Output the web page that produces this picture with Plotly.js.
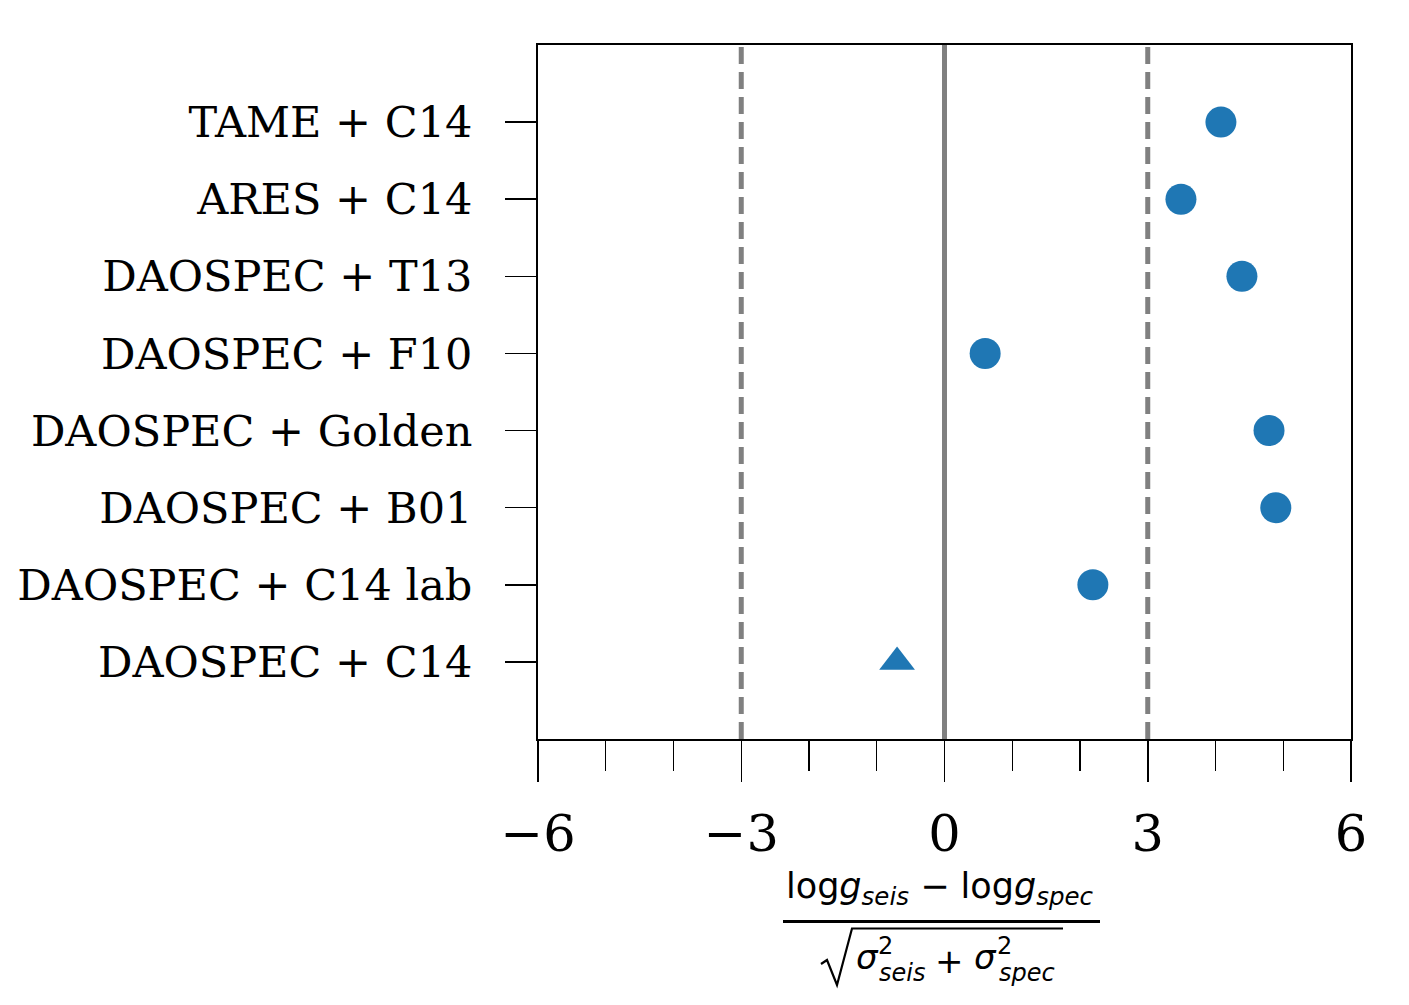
<!DOCTYPE html>
<html>
<head>
<meta charset="utf-8">
<script src="https://cdn.plot.ly/plotly-3.0.1.min.js"></script>
<style>html,body{margin:0;padding:0;background:#fff;}</style>
</head>
<body>
<div id="chart" style="width:1409px;height:1005px;"></div>
<script>
// Categories listed bottom to top
const categories = [
  'DAOSPEC + C14',
  'DAOSPEC + C14 lab',
  'DAOSPEC + B01',
  'DAOSPEC + Golden',
  'DAOSPEC + F10',
  'DAOSPEC + T13',
  'ARES + C14',
  'TAME + C14'
];
const values = [-0.70, 2.19, 4.89, 4.79, 0.60, 4.39, 3.49, 4.08];
const symbols = ['triangle-up', 'circle', 'circle', 'circle', 'circle', 'circle', 'circle', 'circle'];
const refLines = [-3, 0, 3];
const xTicks = [-6, -3, 0, 3, 6];

// layout geometry (pixels)
const W = 1409, H = 1005;
const L = 538, R = 1351, T = 45, B = 739;
const px = x => (x - L) / (R - L);
const py = y => (B - y) / (B - T);

const numFont = {family: 'DejaVu Sans', size: 35, color: '#000'};
const mathFont = {family: 'DejaVu Sans', size: 34, color: '#000'};
const subFont = {family: 'DejaVu Sans', size: 24, color: '#000'};

const trace = {
  type: 'scatter',
  mode: 'markers',
  x: values,
  y: categories,
  marker: {
    color: '#1f77b4',
    opacity: 1,
    size: 31,
    symbol: symbols,
    line: {width: 0}
  },
  hoverinfo: 'x+y',
  showlegend: false
};

const shapes = refLines.map(v => ({
  type: 'line', xref: 'x', yref: 'paper',
  x0: v, x1: v, y0: 0, y1: 1,
  line: {color: '#808080', width: 5, dash: v === 0 ? 'solid' : '17px,8px'},
  layer: 'below'
}));

// fraction bar
shapes.push({type: 'line', xref: 'paper', yref: 'paper',
  x0: px(783), x1: px(1100), y0: py(921.5), y1: py(921.5),
  line: {color: '#000', width: 3}});
// radical sign
shapes.push({type: 'path', xref: 'paper', yref: 'paper',
  path: `M ${px(821)} ${py(964)} L ${px(827)} ${py(960)} L ${px(837)} ${py(985)} L ${px(852)} ${py(928.5)} L ${px(1063)} ${py(928.5)}`,
  line: {color: '#000', width: 2.2}});

function ann(x, y, text, font) {
  return {xref: 'paper', yref: 'paper', x: px(x), y: py(y), xanchor: 'center', yanchor: 'middle',
    text: text, showarrow: false, font: font, borderpad: 0};
}

const annotations = [
  ann(940, 888, 'log<i>g</i><sub><i>seis</i></sub> − log<i>g</i><sub><i>spec</i></sub>', numFont),
  ann(867, 957, '<i>σ</i>', mathFont),
  ann(885, 946, '2', subFont),
  ann(902, 973, '<i>seis</i>', subFont),
  ann(949, 961, '+', mathFont),
  ann(985, 957, '<i>σ</i>', mathFont),
  ann(1004, 946, '2', subFont),
  ann(1027, 973, '<i>spec</i>', subFont)
];

const layout = {
  width: W, height: H,
  margin: {l: L, r: W - R, t: T, b: H - B, pad: 0},
  paper_bgcolor: '#fff', plot_bgcolor: '#fff',
  showlegend: false,
  xaxis: {
    range: [-6, 6],
    tickvals: xTicks,
    ticktext: xTicks.map(v => v < 0 ? '−' + Math.abs(v) : String(v)),
    ticks: 'outside', ticklen: 41, tickwidth: 1.5, tickcolor: '#000',
    minor: {dtick: 1, tick0: 0, ticks: 'outside', ticklen: 30, tickwidth: 1.2, tickcolor: '#000', showgrid: false},
    ticklabelstandoff: 8,
    showgrid: false, zeroline: false,
    showline: true, linecolor: '#000', linewidth: 2, mirror: true,
    tickfont: {family: 'DejaVu Serif', size: 51, color: '#000'}
  },
  yaxis: {
    type: 'category',
    categoryorder: 'array', categoryarray: categories,
    range: [-1, 8],
    ticks: 'outside', ticklen: 31, tickwidth: 1.5, tickcolor: '#000',
    ticklabelstandoff: 24,
    showgrid: false, zeroline: false,
    showline: true, linecolor: '#000', linewidth: 2, mirror: true,
    tickfont: {family: 'DejaVu Serif', size: 43, color: '#000'}
  },
  shapes: shapes,
  annotations: annotations
};

Plotly.newPlot('chart', [trace], layout, {displayModeBar: false, staticPlot: true});
</script>
</body>
</html>
